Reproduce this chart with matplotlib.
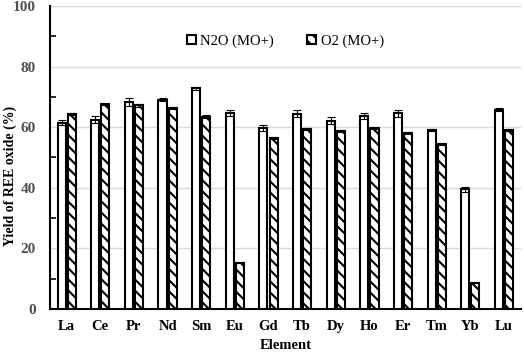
import matplotlib.pyplot as plt
import numpy as np

# Valeurs
elements = ['La', 'Ce', 'Pr', 'Nd', 'Sm', 'Eu', 'Gd', 'Tb', 'Dy', 'Ho', 'Er', 'Tm', 'Yb', 'Lu']
n2o = [61.5, 62.5, 68.3, 69.0, 72.8, 64.8, 59.8, 64.4, 62.1, 63.8, 64.6, 59.1, 39.5, 65.8]
n2o_err = [0.8, 1.2, 1.3, 0.5, 0.4, 1.0, 1.0, 1.1, 1.1, 1.0, 1.1, 0.4, 0.8, 0.4]
o2 = [64.3, 67.5, 67.2, 66.3, 63.5, 15.3, 56.5, 59.3, 58.7, 59.8, 58.1, 54.5, 8.7, 59.0]
o2_err = [0.4, 0.3, 0.5, 0.4, 0.5, 0.2, 0.4, 0.4, 0.3, 0.3, 0.4, 0.4, 0.2, 0.3]

plt.rcParams['font.family'] = ['Liberation Serif', 'DejaVu Serif']
plt.rcParams['hatch.linewidth'] = 1.5

fig = plt.figure(figsize=(5.24, 3.53), dpi=100)
ax = fig.add_axes([0.095, 0.125, 0.899, 0.858])

index = np.arange(len(elements))
bar_width = 0.24

ax.grid(axis='y', color='#d9d9d9', linewidth=1, zorder=0)
ax.bar(index - 0.15, n2o, bar_width, color='white', edgecolor='black', linewidth=1.5,
       label='N2O (MO+)', zorder=3)
ax.bar(index + 0.15, o2, bar_width, color='white', edgecolor='black', linewidth=1.5,
       hatch='\\\\\\', label='O2 (MO+)', zorder=3)
ax.errorbar(index - 0.15, n2o, yerr=n2o_err, fmt='none', ecolor='black', capsize=3,
            elinewidth=0.8, capthick=0.8, zorder=4)
ax.errorbar(index + 0.15, o2, yerr=o2_err, fmt='none', ecolor='black', capsize=3,
            elinewidth=0.8, capthick=0.8, zorder=4)

ax.set_xlim(-0.5, len(elements) - 0.5)
ax.set_ylim(0, 100)
ax.set_xticks(index)
ax.set_xticklabels(elements, fontweight='bold', fontsize=10.5)
ax.set_yticks(np.arange(0, 101, 20))
ax.set_yticks(np.arange(10, 100, 20), minor=True)
for lab in ax.get_yticklabels():
    lab.set_fontweight('bold')
    lab.set_fontsize(11)
    lab.set_color('#505050')
ax.tick_params(axis='x', length=0, pad=8)
ax.tick_params(axis='y', which='major', length=0, pad=10)
ax.tick_params(axis='y', which='minor', direction='in', length=4, width=1.2)

for s in ['top', 'right']:
    ax.spines[s].set_visible(False)
ax.spines['left'].set_linewidth(1.5)
ax.spines['bottom'].set_linewidth(1.5)

ax.set_xlabel('Element', fontweight='bold', fontsize=10.5, labelpad=4)
ax.set_ylabel('Yield of REE oxide (%)', fontweight='bold', fontsize=10)
ax.yaxis.set_label_coords(-0.07, 0.44)

ax.legend(loc='center', bbox_to_anchor=(0.5, 0.885), ncol=2, frameon=False,
          fontsize=10.5, handlelength=0.6, handleheight=0.6, columnspacing=2.3, handletextpad=0.3)

fig.savefig('out.png', dpi=100)
